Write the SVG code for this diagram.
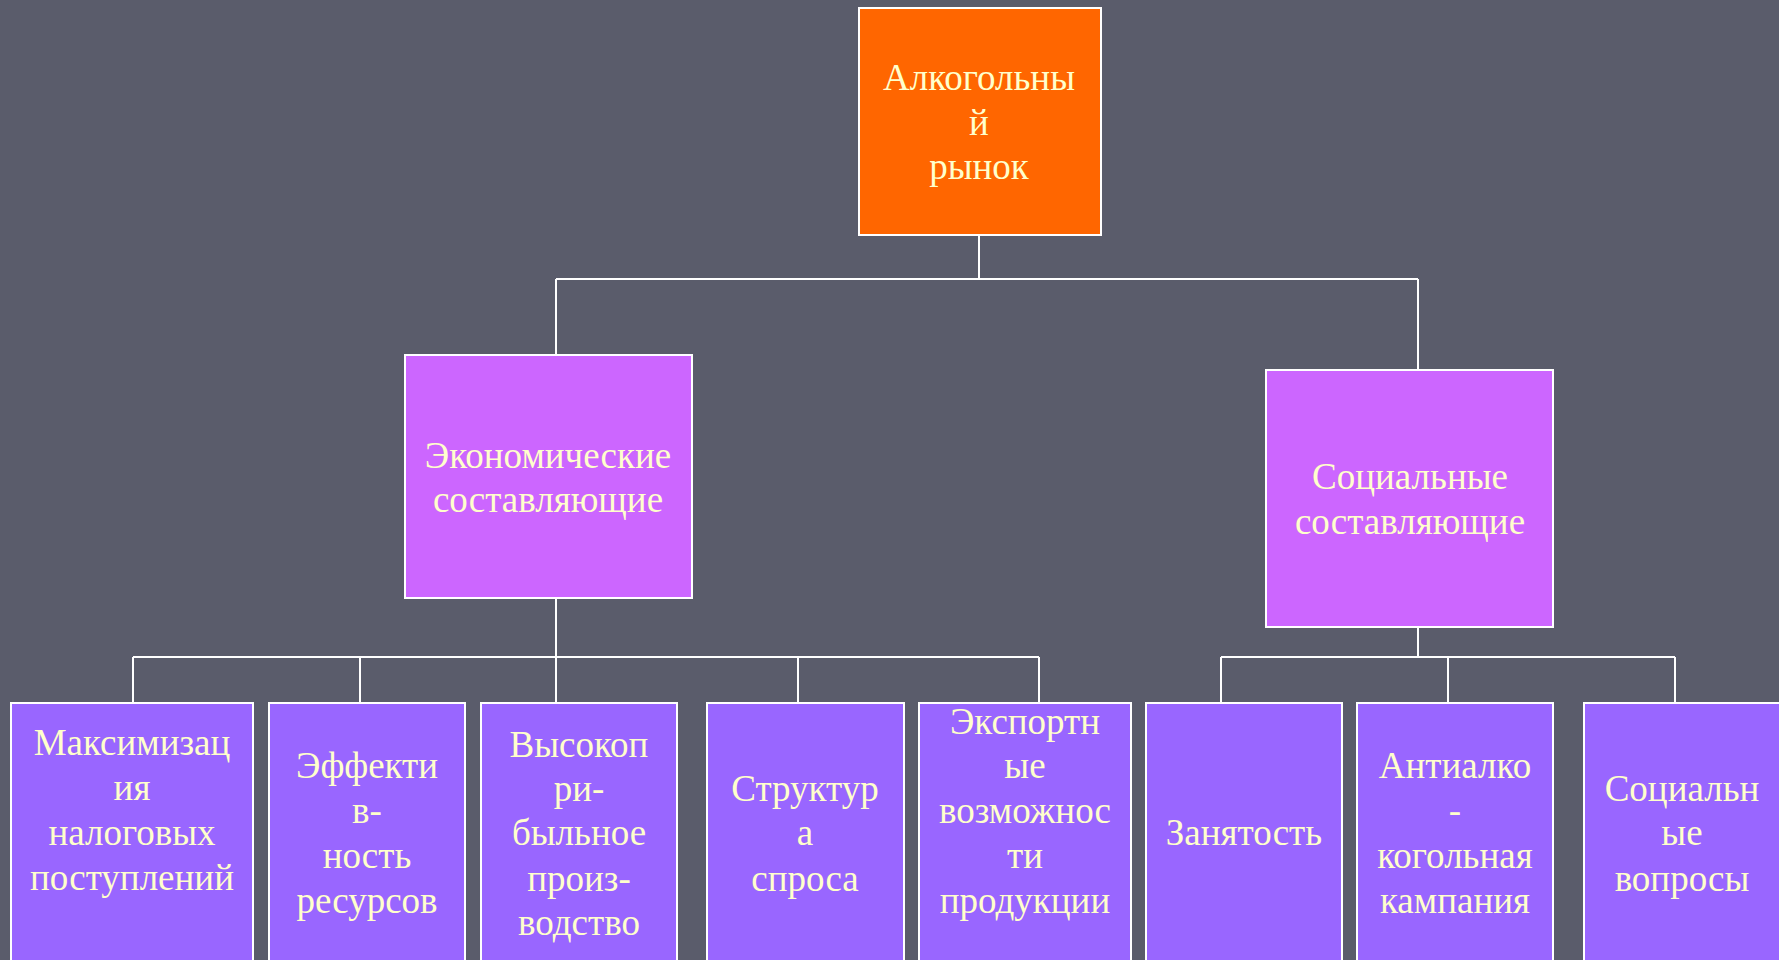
<svg xmlns="http://www.w3.org/2000/svg" width="1779" height="960" viewBox="0 0 1779 960">
<style>
.bg{fill:#5a5c6b}
.box{stroke:#ffffff;stroke-width:2}
.top{fill:#ff6600}
.mid{fill:#cc66ff}
.leaf{fill:#9966ff}
.t{font-family:"Liberation Serif","Times New Roman",serif;font-size:37px;fill:#ffffcc;text-anchor:middle}
.c{stroke:#ffffff;stroke-width:2;fill:none}
</style>
<rect class="bg" x="0" y="0" width="1779" height="960"/>
<g id="connectors">
<path class="c" d="M979 235V279M556 279H1418M556 279V355M1418 279V370"/>
<path class="c" d="M556 598V657M133 657H1039M133 657V703M360 657V703M556 657V703M798 657V703M1039 657V703"/>
<path class="c" d="M1418 627V657M1221 657H1675M1221 657V703M1448 657V703M1675 657V703"/>
</g>
<g id="n-root">
<rect class="box top" x="859" y="8" width="242" height="227"/>
<text class="t"><tspan x="979" y="90">Алкогольны</tspan><tspan x="979" y="135">й</tspan><tspan x="979" y="179">рынок</tspan></text>
</g>
<g id="n-econ">
<rect class="box mid" x="405" y="355" width="287" height="243"/>
<text class="t"><tspan x="548" y="468">Экономические</tspan><tspan x="548" y="512">составляющие</tspan></text>
</g>
<g id="n-social">
<rect class="box mid" x="1266" y="370" width="287" height="257"/>
<text class="t"><tspan x="1410" y="489">Социальные</tspan><tspan x="1410" y="534">составляющие</tspan></text>
</g>
<g id="n-tax">
<rect class="box leaf" x="11" y="703" width="242" height="270"/>
<text class="t"><tspan x="132" y="755">Максимизац</tspan><tspan x="132" y="800">ия</tspan><tspan x="132" y="845">налоговых</tspan><tspan x="132" y="890">поступлений</tspan></text>
</g>
<g id="n-eff">
<rect class="box leaf" x="269" y="703" width="196" height="270"/>
<text class="t"><tspan x="367" y="778">Эффекти</tspan><tspan x="367" y="823">в-</tspan><tspan x="367" y="868">ность</tspan><tspan x="367" y="913">ресурсов</tspan></text>
</g>
<g id="n-prod">
<rect class="box leaf" x="481" y="703" width="196" height="270"/>
<text class="t"><tspan x="579" y="757">Высокоп</tspan><tspan x="579" y="801">ри-</tspan><tspan x="579" y="845">быльное</tspan><tspan x="579" y="891">произ-</tspan><tspan x="579" y="935">водство</tspan></text>
</g>
<g id="n-demand">
<rect class="box leaf" x="707" y="703" width="197" height="270"/>
<text class="t"><tspan x="805" y="801">Структур</tspan><tspan x="805" y="845">а</tspan><tspan x="805" y="891">спроса</tspan></text>
</g>
<g id="n-export">
<rect class="box leaf" x="919" y="703" width="212" height="270"/>
<text class="t"><tspan x="1025" y="734">Экспортн</tspan><tspan x="1025" y="778">ые</tspan><tspan x="1025" y="823">возможнос</tspan><tspan x="1025" y="868">ти</tspan><tspan x="1025" y="913">продукции</tspan></text>
</g>
<g id="n-employ">
<rect class="box leaf" x="1146" y="703" width="196" height="270"/>
<text class="t"><tspan x="1244" y="845">Занятость</tspan></text>
</g>
<g id="n-anti">
<rect class="box leaf" x="1357" y="703" width="196" height="270"/>
<text class="t"><tspan x="1455" y="778">Антиалко</tspan><tspan x="1455" y="823">-</tspan><tspan x="1455" y="868">когольная</tspan><tspan x="1455" y="913">кампания</tspan></text>
</g>
<g id="n-socq">
<rect class="box leaf" x="1584" y="703" width="210" height="270"/>
<text class="t"><tspan x="1682" y="801">Социальн</tspan><tspan x="1682" y="845">ые</tspan><tspan x="1682" y="891">вопросы</tspan></text>
</g>
</svg>
